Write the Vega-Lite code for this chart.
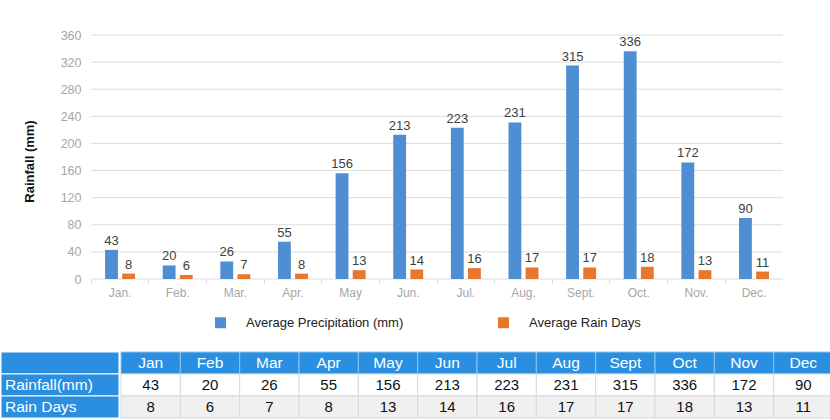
{
  "$schema": "https://vega.github.io/schema/vega-lite/v6.json",
  "padding": {"left": 0, "right": 0, "top": 29, "bottom": 0},
  "background": "#ffffff",
  "config": {
    "view": {"stroke": null},
    "font": "Liberation Sans"
  },
  "datasets": {
    "months": [
      {"m": "Jan.", "mt": "Jan", "rain": 43, "days": 8},
      {"m": "Feb.", "mt": "Feb", "rain": 20, "days": 6},
      {"m": "Mar.", "mt": "Mar", "rain": 26, "days": 7},
      {"m": "Apr.", "mt": "Apr", "rain": 55, "days": 8},
      {"m": "May", "mt": "May", "rain": 156, "days": 13},
      {"m": "Jun.", "mt": "Jun", "rain": 213, "days": 14},
      {"m": "Jul.", "mt": "Jul", "rain": 223, "days": 16},
      {"m": "Aug.", "mt": "Aug", "rain": 231, "days": 17},
      {"m": "Sept.", "mt": "Sept", "rain": 315, "days": 17},
      {"m": "Oct.", "mt": "Oct", "rain": 336, "days": 18},
      {"m": "Nov.", "mt": "Nov", "rain": 172, "days": 13},
      {"m": "Dec.", "mt": "Dec", "rain": 90, "days": 11}
    ],
    "grid": [
      {"g": 0}, {"g": 40}, {"g": 80}, {"g": 120}, {"g": 160},
      {"g": 200}, {"g": 240}, {"g": 280}, {"g": 320}, {"g": 360}
    ],
    "labels": [
      {"row": "h", "label": ""},
      {"row": "rain", "label": "Rainfall(mm)"},
      {"row": "days", "label": "Rain Days"}
    ]
  },
  "spacing": 53,
  "resolve": {"scale": {"x": "independent", "y": "independent"}},
  "vconcat": [
    {
      "width": 768,
      "height": 244,
      "layer": [
        {
          "data": {"name": "grid"},
          "mark": {"type": "rule", "color": "#dcdcdc", "strokeWidth": 1},
          "encoding": {
            "y": {
              "field": "g", "type": "quantitative",
              "scale": {"domain": [0, 360], "nice": false},
              "axis": {
                "values": [0, 40, 80, 120, 160, 200, 240, 280, 320, 360],
                "tickCount": 12, "labelOverlap": false,
                "offset": -80, "domain": false, "ticks": false, "tickSize": 0,
                "labelPadding": 0, "grid": false,
                "labelColor": "#a6a6a6", "labelFontSize": 12.5, "labelFont": "Liberation Sans",
                "title": "Rainfall (mm)", "titleFont": "Liberation Sans", "titleFontSize": 13,
                "titleFontWeight": "bold", "titleColor": "#111111",
                "titleX": -52, "titleY": 126, "titleAngle": -90,
                "titleBaseline": "middle", "titleAlign": "center"
              }
            },
            "x": {
              "datum": "Jan.", "type": "nominal", "bandPosition": -0.46,
              "scale": {
                "domain": ["Jan.", "Feb.", "Mar.", "Apr.", "May", "Jun.", "Jul.", "Aug.", "Sept.", "Oct.", "Nov.", "Dec."],
                "paddingInner": 0.48, "paddingOuter": 0.903, "align": 1
              },
              "axis": {
                "title": null, "domain": false, "grid": false,
                "ticks": true, "tickColor": "#d9d9d9", "tickSize": 4, "bandPosition": -0.46,
                "labelColor": "#a6a6a6", "labelFontSize": 12, "labelPadding": 4,
                "labelFont": "Liberation Sans", "labelAngle": 0
              }
            },
            "x2": {"datum": "Dec.", "bandPosition": 1.46}
          }
        },
        {
          "data": {"name": "months"},
          "transform": [{"fold": ["rain", "days"], "as": ["series", "value"]}],
          "mark": {"type": "bar"},
          "encoding": {
            "x": {
              "field": "m", "type": "nominal",
              "scale": {
                "domain": ["Jan.", "Feb.", "Mar.", "Apr.", "May", "Jun.", "Jul.", "Aug.", "Sept.", "Oct.", "Nov.", "Dec."],
                "paddingInner": 0.48, "paddingOuter": 0.903, "align": 1
              },
              "axis": {
                "title": null, "domain": false, "grid": false,
                "ticks": true, "tickColor": "#d9d9d9", "tickSize": 4, "bandPosition": -0.46,
                "labelColor": "#a6a6a6", "labelFontSize": 12, "labelPadding": 4,
                "labelFont": "Liberation Sans", "labelAngle": 0
              }
            },
            "xOffset": {
              "field": "series", "type": "nominal",
              "scale": {"domain": ["rain", "days"], "paddingInner": 0.25, "paddingOuter": 0}
            },
            "y": {
              "field": "value", "type": "quantitative",
              "scale": {"domain": [0, 360], "nice": false},
              "axis": {
                "values": [0, 40, 80, 120, 160, 200, 240, 280, 320, 360],
                "tickCount": 12, "labelOverlap": false,
                "offset": -80, "domain": false, "ticks": false, "tickSize": 0,
                "labelPadding": 0, "grid": false,
                "labelColor": "#a6a6a6", "labelFontSize": 12.5, "labelFont": "Liberation Sans",
                "title": "Rainfall (mm)", "titleFont": "Liberation Sans", "titleFontSize": 13,
                "titleFontWeight": "bold", "titleColor": "#111111",
                "titleX": -52, "titleY": 126, "titleAngle": -90,
                "titleBaseline": "middle", "titleAlign": "center"
              }
            },
            "color": {
              "field": "series", "type": "nominal",
              "scale": {"domain": ["rain", "days"], "range": ["#4f8ed2", "#e8772e"]},
              "legend": {
                "title": null, "orient": "none", "legendX": 213, "legendY": 281,
                "direction": "horizontal", "symbolType": "square", "symbolSize": 121,
                "symbolStrokeWidth": 0, "labelFontSize": 13, "labelColor": "#222222",
                "labelFont": "Liberation Sans", "labelOffset": 19, "columnPadding": 93,
                "padding": 0, "labelLimit": 300,
                "labelExpr": "datum.label == 'rain' ? 'Average Precipitation (mm)' : 'Average Rain Days'"
              }
            }
          }
        },
        {
          "data": {"name": "months"},
          "transform": [{"fold": ["rain", "days"], "as": ["series", "value"]}],
          "mark": {"type": "text", "baseline": "bottom", "dy": -2, "fontSize": 13, "color": "#404040", "font": "Liberation Sans"},
          "encoding": {
            "x": {"field": "m", "type": "nominal"},
            "xOffset": {"field": "series", "type": "nominal"},
            "y": {"field": "value", "type": "quantitative"},
            "text": {"field": "value", "type": "quantitative"}
          }
        }
      ]
    },
    {
      "spacing": 0,
      "hconcat": [
        {
          "width": 118,
          "height": 66,
          "data": {"name": "labels"},
          "layer": [
            {
              "mark": {"type": "rect", "fill": "#2a8fe1", "stroke": "#ffffff", "strokeWidth": 1},
              "encoding": {
                "x": {"datum": "c", "type": "nominal", "scale": {"paddingInner": 0, "paddingOuter": 0}, "axis": null},
                "y": {"field": "row", "type": "nominal", "scale": {"domain": ["h", "rain", "days"], "paddingInner": 0, "paddingOuter": 0}, "axis": null}
              }
            },
            {
              "mark": {"type": "text", "align": "left", "dx": 4, "color": "#ffffff", "fontSize": 15.5, "font": "Liberation Sans"},
              "encoding": {
                "x": {"datum": "c", "type": "nominal", "bandPosition": 0},
                "y": {"field": "row", "type": "nominal"},
                "text": {"field": "label", "type": "nominal"}
              }
            }
          ]
        },
        {
          "width": 712,
          "height": 66,
          "data": {"name": "months"},
          "layer": [
            {
              "mark": {"type": "rect", "fill": "#2a8fe1", "stroke": "#8ec5f0", "strokeWidth": 1},
              "encoding": {
                "x": {"field": "mt", "type": "nominal", "sort": null, "scale": {"paddingInner": 0, "paddingOuter": 0}, "axis": null},
                "y": {"datum": "h", "type": "nominal", "scale": {"domain": ["h", "rain", "days"], "paddingInner": 0, "paddingOuter": 0}, "axis": null}
              }
            },
            {
              "mark": {"type": "text", "color": "#ffffff", "fontSize": 15.5, "font": "Liberation Sans"},
              "encoding": {
                "x": {"field": "mt", "type": "nominal", "sort": null},
                "y": {"datum": "h", "type": "nominal"},
                "text": {"field": "mt", "type": "nominal"}
              }
            },
            {
              "transform": [{"fold": ["rain", "days"], "as": ["row", "val"]}],
              "mark": {"type": "rect", "stroke": "#d9d9d9", "strokeWidth": 1},
              "encoding": {
                "x": {"field": "mt", "type": "nominal", "sort": null},
                "y": {"field": "row", "type": "nominal"},
                "fill": {"condition": {"test": "datum.row == 'days'", "value": "#f0f0f0"}, "value": "#ffffff"}
              }
            },
            {
              "transform": [{"fold": ["rain", "days"], "as": ["row", "val"]}],
              "mark": {"type": "text", "color": "#111111", "fontSize": 15, "font": "Liberation Sans"},
              "encoding": {
                "x": {"field": "mt", "type": "nominal", "sort": null},
                "y": {"field": "row", "type": "nominal"},
                "text": {"field": "val", "type": "quantitative"}
              }
            }
          ]
        }
      ]
    }
  ]
}
